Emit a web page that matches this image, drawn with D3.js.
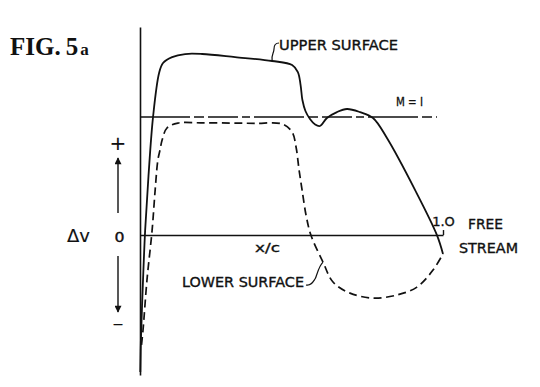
<!DOCTYPE html>
<html lang="en">
<head>
<meta charset="utf-8"/>
<title>FIG. 5a</title>
<script src="https://d3js.org/d3.v7.min.js"></script>
<style>
  body { margin: 0; background: #fff; }
  .axis .domain { stroke: #111; stroke-width: 1.6px; }
  .axis .tick line { stroke: #111; stroke-width: 1.4px; }
  .axis .tick text { font-family: "DejaVu Sans", sans-serif; font-size: 13px; fill: #111; stroke: #111; stroke-width: 0.35px; }
  .lbl { font-family: "DejaVu Sans", sans-serif; fill: #111; stroke: #111; stroke-width: 0.35px; }
</style>
</head>
<body>
<div id="chart"></div>
<script>
// chordwise position x/c and velocity increment (M=1 level = 1)
var upperX = [0.001, 0.003, 0.010, 0.017, 0.028, 0.043, 0.063, 0.076, 0.106, 0.149, 0.205, 0.314, 0.436, 0.502, 0.521, 0.530, 0.536, 0.546, 0.561, 0.578, 0.594, 0.617, 0.650, 0.683, 0.726, 0.769, 0.815, 0.908, 0.980, 1.0];
var upperV = [-1.16, -0.89, -0.38, 0.04, 0.50, 1.00, 1.373, 1.458, 1.508, 1.534, 1.534, 1.508, 1.475, 1.441, 1.381, 1.271, 1.144, 1.051, 0.983, 0.936, 0.924, 0.992, 1.042, 1.068, 1.042, 0.992, 0.822, 0.381, 0.0, -0.16];

var lowerX = [0.005, 0.010, 0.023, 0.040, 0.050, 0.059, 0.066, 0.073, 0.089, 0.125, 0.200, 0.297, 0.380, 0.469, 0.502, 0.515, 0.525, 0.535, 0.548, 0.564, 0.604, 0.637, 0.693, 0.769, 0.848, 0.914, 0.967, 1.0];
var lowerV = [-0.93, -0.805, -0.381, 0.042, 0.381, 0.636, 0.720, 0.805, 0.907, 0.949, 0.951, 0.949, 0.946, 0.941, 0.873, 0.746, 0.551, 0.381, 0.169, 0.0, -0.229, -0.398, -0.492, -0.534, -0.508, -0.441, -0.297, -0.16];

var sonicV = 1.0, sonicEnd = 0.98;
var xTicks = [1.0], xTickLabels = ["1.O"];
var vMin = -1.186, vMax = 1.763;

var width = 540, height = 387;

var svg = d3.select("#chart").append("svg")
  .attr("width", width)
  .attr("height", height);

var x = d3.scaleLinear().domain([0, 1]).range([140, 443]);
var y = d3.scaleLinear().domain([vMin, vMax]).range([375, 27]);

// axes
svg.append("g")
  .attr("class", "axis")
  .attr("transform", "translate(" + x(0) + ",0)")
  .call(d3.axisLeft(y).tickValues([]).tickSizeOuter(0));

svg.append("g")
  .attr("class", "axis")
  .attr("transform", "translate(0," + y(0) + ")")
  .call(d3.axisTop(x).tickValues(xTicks).tickSize(5).tickSizeOuter(0)
    .tickFormat(function(d, i) { return xTickLabels[i]; }))
  .selectAll(".tick text").attr("dy", "-0.05em");

// M=1 line
svg.append("line")
  .attr("x1", x(0)).attr("x2", x(sonicEnd))
  .attr("y1", y(sonicV)).attr("y2", y(sonicV))
  .attr("stroke", "#111").attr("stroke-width", 1.6)
  .attr("stroke-dasharray", "50,4,10,4,30,4,8,4");

var line = d3.line()
  .x(function(d) { return x(d[0]); })
  .y(function(d) { return y(d[1]); })
  .curve(d3.curveCatmullRom.alpha(0.5));

svg.append("path")
  .datum(d3.zip(upperX, upperV))
  .attr("d", line)
  .attr("fill", "none").attr("stroke", "#111").attr("stroke-width", 1.8);

svg.append("path")
  .datum(d3.zip(lowerX, lowerV))
  .attr("d", line)
  .attr("fill", "none").attr("stroke", "#111").attr("stroke-width", 1.7)
  .attr("stroke-dasharray", "8,4.5");

// leaders
svg.append("path")
  .attr("d", "M279,43 C275,43 274,46 274,49 C274,53 271,55 " + x(0.436) + "," + y(1.475))
  .attr("fill", "none").attr("stroke", "#111").attr("stroke-width", 1.2);

svg.append("path")
  .attr("d", "M306,285 C311,286 313,282 315,279 C317,276 318,267 " + x(0.604) + "," + y(-0.229))
  .attr("fill", "none").attr("stroke", "#111").attr("stroke-width", 1.2);

// labels
function label(t, px, py, size, len, anchor) {
  var el = svg.append("text").attr("class", "lbl")
    .attr("x", px).attr("y", py)
    .style("font-size", size + "px")
    .attr("text-anchor", anchor || "start")
    .text(t);
  if (len) el.attr("textLength", len).attr("lengthAdjust", "spacingAndGlyphs");
  return el;
}

label("UPPER SURFACE", 279, 50, 13.5, 119);
label("M = I", 396, 106, 13, 27);
label("LOWER SURFACE", 182, 287, 13.5, 122);
label("x/c", 255, 252, 13, 25);
label("FREE", 468, 229, 13.5, 35);
label("STREAM", 459, 253, 13.5, 59);
label("\u0394v", 67, 242, 17, 23).style("stroke-width", "0.15px");
label("0", 114.5, 241.5, 13.5, 10);
label("+", 118, 150, 20, null, "middle").style("stroke-width", "0.1px");
label("\u2013", 118, 329, 18, 11, "middle").style("stroke-width", "0.1px");

var fig = svg.append("text")
  .attr("x", 10).attr("y", 55)
  .style("font-family", "'Liberation Serif', 'DejaVu Serif', serif")
  .style("font-weight", "bold")
  .style("fill", "#111");
fig.append("tspan").style("font-size", "25px").text("FIG.");
fig.append("tspan").style("font-size", "25px").attr("dx", 5).text("5");
fig.append("tspan").style("font-size", "17px").attr("dx", 2).text("a");

// direction arrows
svg.append("defs").append("marker")
  .attr("id", "head")
  .attr("viewBox", "0 0 10 10")
  .attr("refX", 9).attr("refY", 5)
  .attr("markerWidth", 10).attr("markerHeight", 7)
  .attr("markerUnits", "userSpaceOnUse")
  .attr("orient", "auto")
  .append("path").attr("d", "M0,0 L10,5 L0,10 Z").attr("fill", "#111");

svg.append("line")
  .attr("x1", 118).attr("x2", 118).attr("y1", 213).attr("y2", 158)
  .attr("stroke", "#111").attr("stroke-width", 1.4)
  .attr("marker-end", "url(#head)");

svg.append("line")
  .attr("x1", 118).attr("x2", 118).attr("y1", 256).attr("y2", 312)
  .attr("stroke", "#111").attr("stroke-width", 1.4)
  .attr("marker-end", "url(#head)");
</script>
</body>
</html>
